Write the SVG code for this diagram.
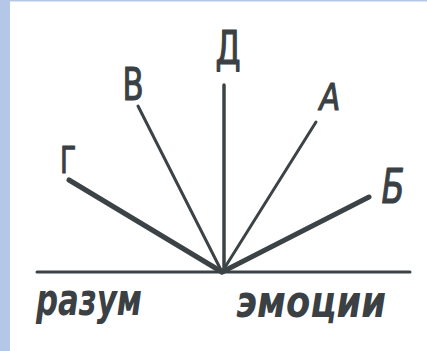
<svg xmlns="http://www.w3.org/2000/svg" width="427" height="351" viewBox="0 0 427 351">
<style>
.ln{stroke:#3c4346;stroke-linecap:round;fill:none}
.lbl{font-family:"DejaVu Sans",sans-serif;fill:#3a4043;stroke:#3a4043;stroke-width:1.2;stroke-linejoin:round}
.word{font-family:"DejaVu Sans",sans-serif;fill:#3a4043;font-weight:bold;font-style:italic}
</style>
<rect width="427" height="351" fill="#ffffff"/>
<rect x="0" y="0" width="427" height="1.5" fill="#b4c7e7"/>
<rect x="0" y="0" width="10" height="351" fill="#b4c7e7"/>
<g id="connectors">
<line class="ln" x1="37" y1="272" x2="410" y2="272" stroke-width="3"/>
<line class="ln" x1="224" y1="85" x2="224" y2="272" stroke-width="3.5"/>
<line class="ln" x1="138" y1="106" x2="222" y2="272" stroke-width="3"/>
<line class="ln" x1="316" y1="122" x2="222" y2="272" stroke-width="3"/>
<line class="ln" x1="69" y1="180" x2="222" y2="272" stroke-width="5"/>
<line class="ln" x1="369" y1="197" x2="222" y2="272" stroke-width="5"/>
</g>
<g id="label-D"><text class="lbl" x="228" y="64" font-size="46" text-anchor="middle" transform="translate(228 0) scale(0.7 1) translate(-228 0)">Д</text></g>
<g id="label-V"><text class="lbl" x="133" y="100" font-size="44" text-anchor="middle" transform="translate(133 0) scale(0.7 1) translate(-133 0)">В</text></g>
<g id="label-A"><text class="lbl" x="330" y="110" font-size="38" text-anchor="middle" font-style="italic" transform="translate(330 0) scale(0.8 1) translate(-330 0)">А</text></g>
<g id="label-G"><text class="lbl" x="68" y="173" font-size="38" text-anchor="middle" transform="translate(68 0) scale(0.7 1) translate(-68 0)">Г</text></g>
<g id="label-B"><text class="lbl" x="393" y="203" font-size="48" text-anchor="middle" font-style="italic" transform="translate(393 0) scale(0.7 1) translate(-393 0)">Б</text></g>
<g id="label-razum"><text class="word" x="36" y="315" font-size="44" textLength="106" lengthAdjust="spacingAndGlyphs">разум</text></g>
<g id="label-emocii"><text class="word" x="236" y="317" font-size="44" textLength="150" lengthAdjust="spacingAndGlyphs">эмоции</text></g>
</svg>
